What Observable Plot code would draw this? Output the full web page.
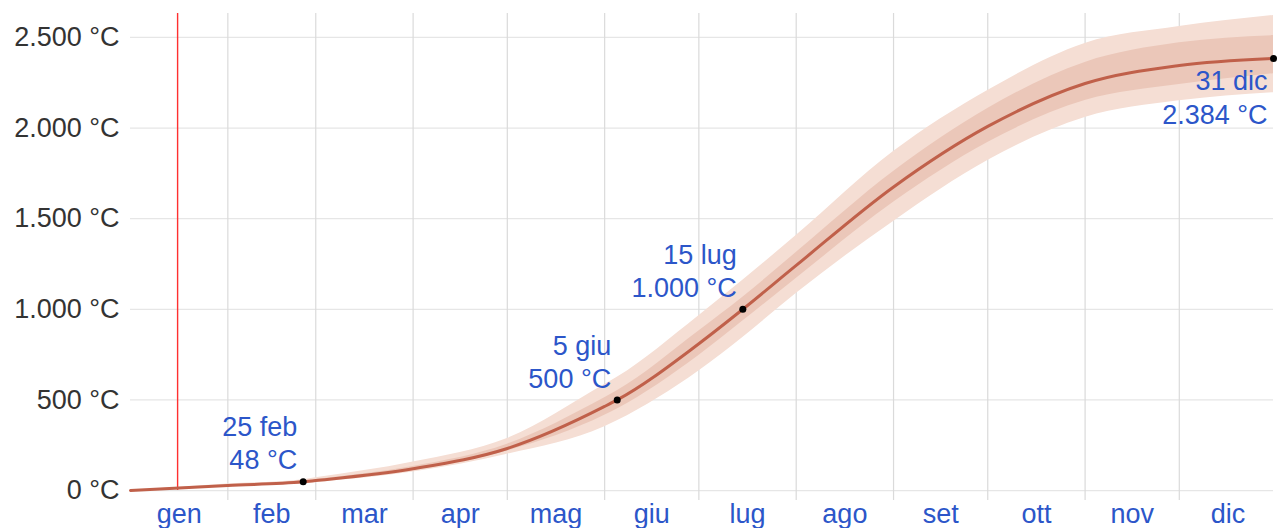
<!DOCTYPE html>
<html><head><meta charset="utf-8">
<script src="https://cdn.jsdelivr.net/npm/d3@7"></script>
<script src="https://cdn.jsdelivr.net/npm/@observablehq/plot@0.6"></script>
<style>
html,body{margin:0;padding:0;background:#fff;}
#chart svg{display:block;}
</style></head><body><div id="chart"></div>
<script>
// Dates of the readings (non-leap year)
const dates = ["2023-01-01","2023-02-01","2023-02-25","2023-03-01","2023-04-01","2023-05-01","2023-06-01","2023-06-05","2023-07-01","2023-07-15","2023-08-01","2023-09-01","2023-10-01","2023-11-01","2023-12-01","2023-12-31"];
// Cumulative growing degree days (°C), median
const median = [0, 28, 48, 55, 120, 232, 464, 500, 810, 1000, 1242, 1675, 2009, 2246, 2345, 2384];
// Percentile bands
const p10 = [0, 22, 40, 45, 102, 200, 352, 385, 660, 845, 1087, 1485, 1821, 2058, 2150, 2195];
const p25 = [0, 25, 44, 50, 112, 218, 415, 450, 745, 935, 1170, 1590, 1920, 2152, 2240, 2300];
const p75 = [0, 31, 53, 61, 133, 256, 512, 550, 880, 1066, 1313, 1760, 2108, 2362, 2470, 2510];
const p90 = [0, 36, 60, 70, 157, 287, 585, 625, 965, 1160, 1407, 1870, 2207, 2467, 2560, 2621];

// Annotated points
const annDates = ["2023-02-25","2023-06-05","2023-07-15","2023-12-31"];
const annValues = [48, 500, 1000, 2384];
const annDayLabels = ["25 feb","5 giu","15 lug","31 dic"];
const annBelow = [false, false, false, true];

// Axis labels
const monthLabels = ["gen","feb","mar","apr","mag","giu","lug","ago","set","ott","nov","dic"];
const yTicks = [0, 500, 1000, 1500, 2000, 2500];
const todayDate = "2023-01-16";

const parse = d3.utcParse("%Y-%m-%d");
const itLocale = d3.formatLocale({decimal: ",", thousands: ".", grouping: [3], currency: ["€", ""]});
const fmtNum = itLocale.format(",d");
const fmtC = v => fmtNum(v) + " °C";

const rows = dates.map((d, i) => ({date: parse(d), median: median[i], p10: p10[i], p25: p25[i], p75: p75[i], p90: p90[i]}));
const ann = annDates.map((d, i) => ({date: parse(d), value: annValues[i], l1: annDayLabels[i], l2: fmtC(annValues[i]), below: annBelow[i]}));
const annAbove = ann.filter(a => !a.below);
const annUnder = ann.filter(a => a.below);

const yearStart = parse("2023-01-01"), yearEnd = parse("2023-12-31");
const monthStarts = d3.utcMonths(parse("2023-02-01"), parse("2024-01-01"));
const monthMids = d3.utcMonths(yearStart, parse("2024-01-01")).map(m => {
  const next = d3.utcMonth.offset(m, 1);
  return new Date((+m + +next) / 2);
});

const blue = "#2c56c9";
const font = "'Liberation Sans', Arial, sans-serif";
const fs = 27;

const plot = Plot.plot({
  width: 1277, height: 528,
  marginLeft: 130, marginRight: 4, marginTop: 13, marginBottom: 28,
  style: {fontFamily: font, background: "white", overflow: "visible"},
  x: {type: "utc", domain: [yearStart, yearEnd]},
  y: {domain: [-55, 2632]},
  marks: [
    Plot.ruleY(yTicks, {stroke: "#e6e6e6", strokeWidth: 1.2}),
    Plot.ruleX(monthStarts, {stroke: "#dadada", strokeWidth: 1.2}),
    Plot.areaY(rows, {x: "date", y1: "p10", y2: "p90", fill: "#f5ded4", curve: "monotone-x"}),
    Plot.areaY(rows, {x: "date", y1: "p25", y2: "p75", fill: "#ebc7b9", curve: "monotone-x"}),
    Plot.ruleX([parse(todayDate)], {y1: 0, y2: 2632, stroke: "#ff3030", strokeWidth: 1.4}),
    Plot.lineY(rows, {x: "date", y: "median", stroke: "#c0604a", strokeWidth: 3, curve: "monotone-x"}),
    Plot.dot(ann, {x: "date", y: "value", r: 3.5, fill: "black"}),
    Plot.text(annAbove, {x: "date", y: "value", text: "l1", dx: -6, dy: -54, textAnchor: "end", lineAnchor: "middle", fontSize: fs, fill: blue}),
    Plot.text(annAbove, {x: "date", y: "value", text: "l2", dx: -6, dy: -21, textAnchor: "end", lineAnchor: "middle", fontSize: fs, fill: blue}),
    Plot.text(annUnder, {x: "date", y: "value", text: "l1", dx: -6, dy: 23, textAnchor: "end", lineAnchor: "middle", fontSize: fs, fill: blue}),
    Plot.text(annUnder, {x: "date", y: "value", text: "l2", dx: -6, dy: 57, textAnchor: "end", lineAnchor: "middle", fontSize: fs, fill: blue}),
    Plot.axisX({ticks: monthMids, tickFormat: d => monthLabels[d.getUTCMonth()], tickSize: 0, tickPadding: 3, fontSize: fs, color: blue, label: null}),
    Plot.axisY({ticks: yTicks, tickFormat: fmtC, tickSize: 0, tickPadding: 11, fontSize: fs, color: "#333", label: null})
  ]
});
document.getElementById("chart").appendChild(plot);
</script></body></html>
